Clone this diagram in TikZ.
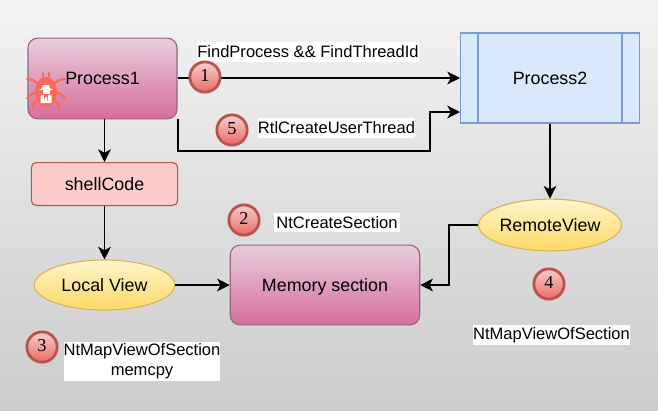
\documentclass[tikz,border=0pt]{standalone}
\usepackage{fontspec}
\setmainfont{Liberation Sans}
\usetikzlibrary{shapes.geometric,arrows.meta}
\tikzset{
  flowline/.style={draw={rgb,255:red,0;green,0;blue,0},line width=1.05pt},
  flowarrow/.style={flowline,-{Stealth[length=9pt,width=9pt,inset=2.4pt]}},
  magentabox/.style={draw={rgb,255:red,150;green,100;blue,135},line width=0.8pt,rounded corners=7pt,
    top color={rgb,255:red,232;green,205;blue,220},bottom color={rgb,255:red,214;green,110;blue,155},inner sep=0pt},
  pinkbox/.style={draw={rgb,255:red,184;green,84;blue,80},line width=0.8pt,rounded corners=3.5pt,
    fill={rgb,255:red,255;green,204;blue,204},inner sep=0pt},
  viewellipse/.style={ellipse,draw={rgb,255:red,214;green,182;blue,86},line width=0.8pt,
    top color={rgb,255:red,255;green,245;blue,205},bottom color={rgb,255:red,255;green,217;blue,102},inner sep=0pt},
  stepcircle/.style={circle,draw={rgb,255:red,184;green,84;blue,80},line width=2pt,minimum size=21.5pt,inner sep=0pt,
    top color={rgb,255:red,248;green,206;blue,204},bottom color={rgb,255:red,234;green,107;blue,102},
    font=\fontspec{Liberation Serif}\fontsize{13}{16}\selectfont,text height=8.8pt,text depth=2pt},
  whitelabel/.style={fill=white,inner sep=0pt,align=center,font=\fontsize{11.75}{14}\selectfont},
}
\begin{document}
\begin{tikzpicture}[x=0.025cm,y=-0.025cm,font=\fontsize{12.7}{15}\selectfont]
\shade[top color={rgb,255:red,243;green,243;blue,243},bottom color={rgb,255:red,204;green,204;blue,204}] (0,0) rectangle (658,410);

% boxes
\node[magentabox,minimum width=106pt,minimum height=57.5pt] (process1) at (102.5,78.5) {};
\node[pinkbox,minimum width=104pt,minimum height=30.5pt] (shellcode) at (104.5,184) {shellCode};
\node[viewellipse,minimum width=100pt,minimum height=35.5pt] (localview) at (104.5,285) {Local View};
\node[magentabox,minimum width=134.7pt,minimum height=56.7pt,text depth=0pt] (memory) at (325,285) {Memory section};
\node[viewellipse,minimum width=100pt,minimum height=36.8pt] (remoteview) at (550,225) {RemoteView};
\node[draw={rgb,255:red,125;green,155;blue,205},fill={rgb,255:red,218;green,232;blue,252},line width=1.1pt,
  minimum width=127.6pt,minimum height=63.8pt,inner sep=0pt] (process2) at (550,78) {Process2};
\draw[draw={rgb,255:red,125;green,155;blue,205},line width=1.1pt] (478,33) -- (478,123) (622,33) -- (622,123);

% bug
\begin{scope}[shift={(46,91)}]
\draw[draw={rgb,255:red,250;green,105;blue,90},line width=1.5pt,line cap=round,line join=round]
  (-9,-8) -- (-13,-11) -- (-19,-12) (9,-8) -- (13,-11) -- (19,-12)
  (-10,1) -- (-14,3) -- (-19,7) (10,1) -- (14,3) -- (19,7)
  (-8,10) -- (-12,12) -- (-13,17) (8,10) -- (12,12) -- (13,17)
  (-3,-14) -- (-3,-18) (3,-14) -- (3,-18);
\fill[fill={rgb,255:red,250;green,105;blue,90}] (0,1) ellipse (11 and 15);
\fill[white] (-7,-1) -- (7,-1) -- (4,-3) -- (3,-6) -- (-3,-6) -- (-4,-3) -- cycle;
\fill[white] (-3.5,-1) rectangle (3.5,3);
\fill[white] (-5.5,4.5) -- (-2.5,3.5) -- (-1,12) -- (-5.5,12) -- cycle (5.5,4.5) -- (2.5,3.5) -- (1,12) -- (5.5,12) -- cycle;
\fill[white] (-1,6) rectangle (1,12);
\end{scope}
\node (process1text) at (102.5,78) {Process1};

% connectors
\coordinate (start1) at (178,78);
\coordinate (end1) at (460,78);
\draw[flowarrow] (start1) -- (end1);
\coordinate (turn5a) at (178,151);
\coordinate (turn5b) at (430,151);
\coordinate (turn5c) at (430,112);
\coordinate (start5) at (178,119);
\coordinate (end5) at (460,112);
\draw[flowarrow] (start5) -- (turn5a) -- (turn5b) -- (turn5c) -- (end5);
\draw[flowarrow] (shellcode.north |- process1.south) -- (shellcode.north);
\draw[flowarrow] (shellcode) -- (localview);
\draw[flowarrow] (localview) -- (memory);
\draw[flowarrow] (process2) -- (remoteview);
\coordinate (turn4a) at (449,225);
\coordinate (turn4b) at (449,285);
\draw[flowarrow] (remoteview.west) -- (turn4a) -- (turn4b) -- (memory.east);

% labels
\node[whitelabel,minimum width=158pt,minimum height=14pt] (findlabel) at (308,52) {FindProcess \&\& FindThreadId};
\node[whitelabel,minimum width=111pt,minimum height=14pt] (rtllabel) at (336.5,128) {RtlCreateUserThread};
\node[whitelabel,minimum width=89pt,minimum height=14pt] (seclabel) at (337,222.5) {NtCreateSection};
\node[whitelabel,minimum width=111pt,minimum height=28pt] (maplabel) at (142,361.5) {NtMapViewOfSection\\memcpy};
\node[whitelabel,minimum width=111pt,minimum height=14pt] (remotelabel) at (551.5,335) {NtMapViewOfSection};

% steps
\node[stepcircle] (step1) at (205,77) {1};
\node[stepcircle] (step5) at (232,130) {5};
\node[stepcircle] (step2) at (244,220) {2};
\node[stepcircle] (step3) at (42,347) {3};
\node[stepcircle] (step4) at (549,284) {4};
\end{tikzpicture}
\end{document}
